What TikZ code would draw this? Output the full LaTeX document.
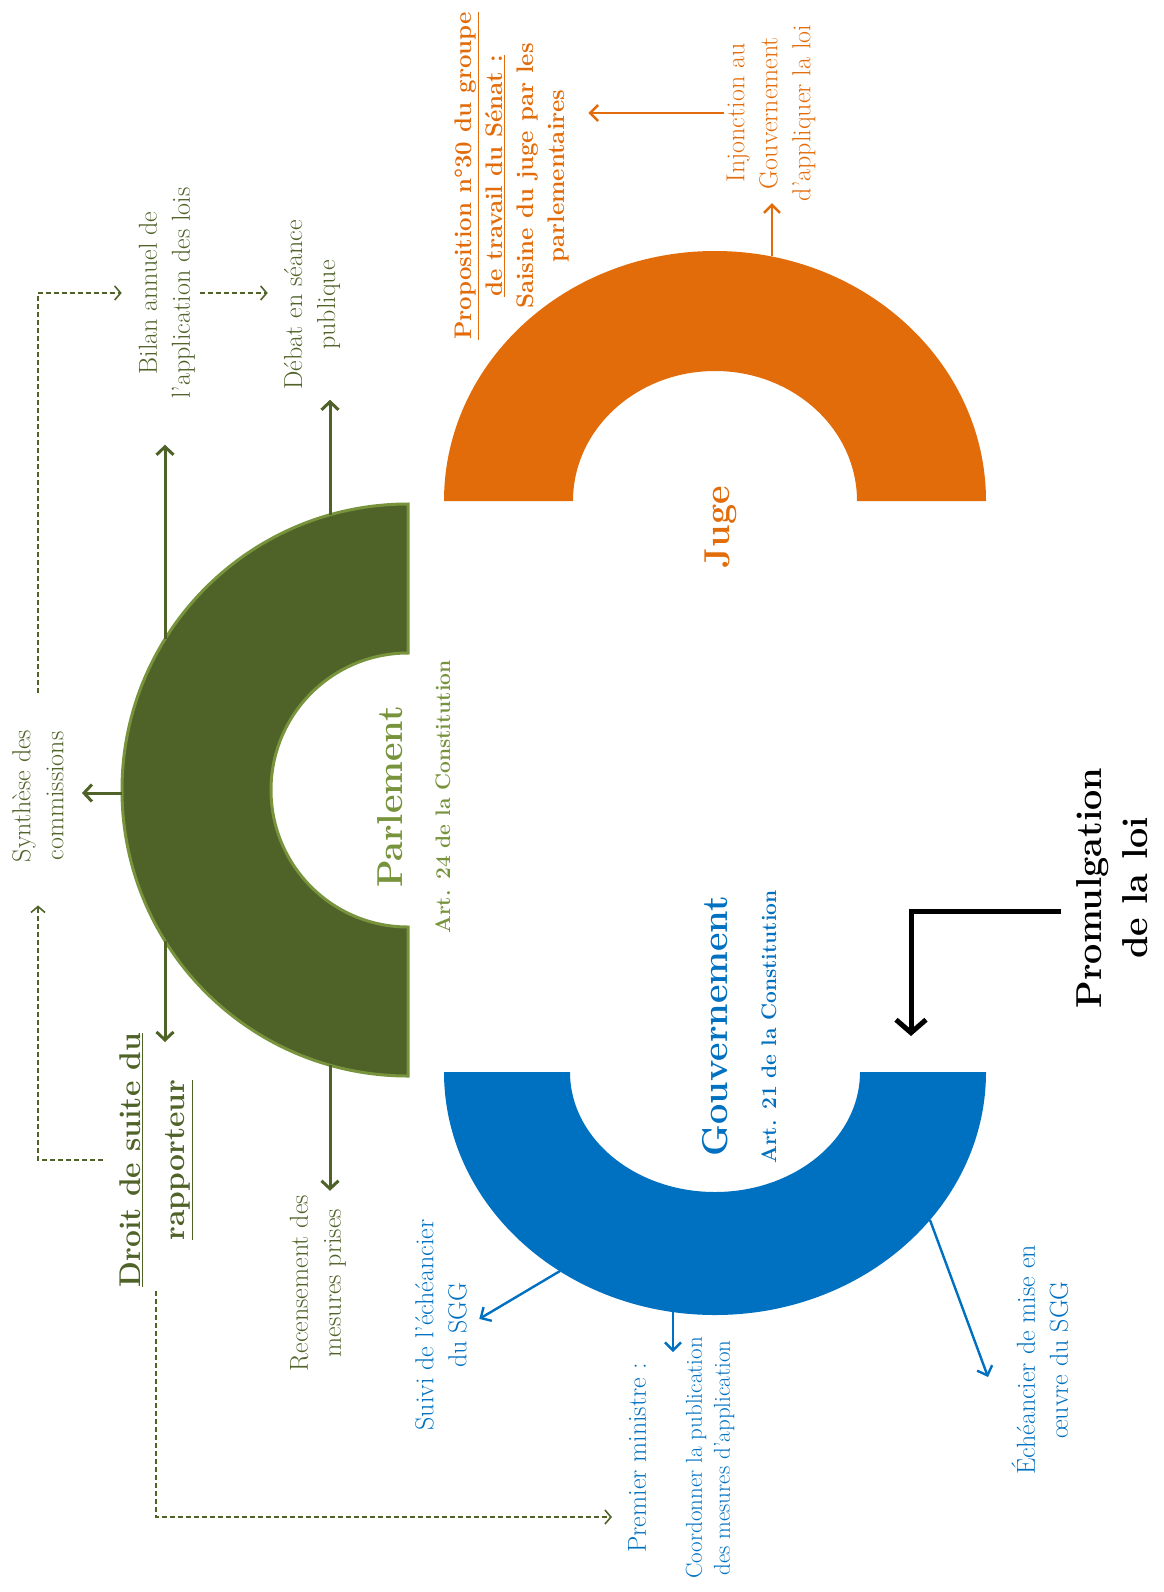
\documentclass[tikz,border=0pt]{standalone}
\definecolor{parlgreen}{RGB}{79, 98, 40}
\definecolor{parllight}{RGB}{119, 147, 60}
\definecolor{jugeorange}{RGB}{227, 108, 10}
\definecolor{gouvblue}{RGB}{0, 112, 192}
\usepackage{tikz}
\usetikzlibrary{arrows.meta, calc}

\begin{document}
\begin{tikzpicture}[x=1pt, y=1pt,
  lbl/.style={rotate=90, align=center, inner sep=2pt, font=\fontsize{26}{33}\selectfont},
  boldlbl/.style={rotate=90, align=center, inner sep=2pt, font=\fontsize{24}{31}\selectfont\bfseries},
  title/.style={rotate=90, align=center, inner sep=2pt, font=\fontsize{36}{46}\selectfont\bfseries},
  artlbl/.style={rotate=90, inner sep=2pt, font=\fontsize{21}{26}\selectfont\bfseries},
  arr/.style={line width=3pt, -{Straight Barb[length=8pt, width=17pt]}},
  thinarr/.style={line width=2.4pt, -{Straight Barb[length=8pt, width=16pt]}},
  dasharr/.style={parlgreen, line width=1.6pt, dash pattern=on 5pt off 3pt, -{Straight Barb[length=6pt, width=14pt]}}]

  \useasboundingbox (0,0) rectangle (1163,-1592);

  \fill[parlgreen, draw=parllight, line width=3pt] (408,-504) arc[start angle=90, end angle=270, radius=286]
    -- (408,-927) arc[start angle=270, end angle=90, radius=137] -- cycle;
  \fill[jugeorange] (986,-501) arc[start angle=0, end angle=180, x radius=271, y radius=250]
    -- (573,-501) arc[start angle=180, end angle=0, x radius=142, y radius=130] -- cycle;
  \fill[gouvblue] (444,-1072) arc[start angle=180, end angle=360, x radius=271, y radius=243]
    -- (860,-1072) arc[start angle=360, end angle=180, x radius=145, y radius=120] -- cycle;

  \coordinate (parlw) at (122,-793);
  \coordinate (parlnw) at (165,-639);
  \coordinate (parln) at (330,-515);
  \coordinate (parlsw) at (165,-941);
  \coordinate (parls) at (330,-1065);
  \coordinate (droittip) at (165,-1042);
  \coordinate (jugen) at (772,-256);
  \coordinate (gouvsw) at (560,-1271);
  \coordinate (gouvs) at (673,-1312);
  \coordinate (gouvse) at (930,-1220);
  \coordinate (gouvtip) at (911,-1036);
  \coordinate (coordtip) at (673,-1352);
  \coordinate (echtip) at (988,-1377);
  \coordinate (pmtip) at (612,-1517);

  \node[lbl, parlgreen] (synth) at (38,-796) {Synthèse des\\commissions};
  \node[lbl, parlgreen] (bilan) at (167,-293) {Bilan annuel de\\l’application des lois};
  \node[lbl, parlgreen] (debat) at (312,-305) {Débat en séance\\publique};
  \node[rotate=90, align=center, inner sep=2pt, font=\fontsize{30}{44}\selectfont\bfseries, parlgreen] (droit) at (156,-1160)
    {\underline{Droit de suite du}\\\underline{rapporteur}};
  \node[lbl, parlgreen] (recens) at (318,-1283) {Recensement des\\mesures prises};
  \node[title, parllight] (parl) at (390,-797) {Parlement};
  \node[artlbl, parllight] (art24) at (443,-797) {Art. 24 de la Constitution};

  \node[title, jugeorange] (juge) at (721,-527) {Juge};
  \node[boldlbl, jugeorange] (prop) at (512,-176)
    {\underline{Proposition n°30 du groupe}\\\underline{de travail du Sénat :}\\Saisine du juge par les\\parlementaires};
  \node[lbl, jugeorange] (inj) at (771,-113) {Injonction au\\Gouvernement\\d’appliquer la loi};

  \node[title, gouvblue] (gouv) at (715,-1026) {Gouvernement};
  \node[artlbl, gouvblue] (art21) at (769,-1027) {Art. 21 de la Constitution};
  \node[lbl, gouvblue] (suivi) at (441,-1325) {Suivi de l’échéancier\\du SGG};
  \node[lbl, gouvblue] (premier) at (637,-1458) {Premier ministre :};
  \node[rotate=90, align=center, inner sep=2pt, font=\fontsize{23}{28}\selectfont, gouvblue] (coord) at (710,-1458)
    {Coordonner la publication\\des mesures d’application};
  \node[lbl, gouvblue] (echeance) at (1040,-1360) {Échéancier de mise en\\œuvre du SGG};

  \node[title] (promul) at (1112,-888) {Promulgation\\de la loi};

  \draw[arr, parlgreen, shorten >=16pt] (parlw) -- (synth.south |- parlw);
  \draw[arr, parlgreen, shorten >=44pt] (parlnw) -- (parlnw |- bilan.west);
  \draw[arr, parlgreen, shorten >=8pt] (parln) -- (parln |- debat.west);
  \draw[arr, parlgreen] (parlsw) -- (droittip);
  \draw[arr, parlgreen, shorten >=2pt] (parls) -- (parls |- recens.east);

  \draw[dasharr, shorten >=15pt] (synth.east) ++(0,35) |- (bilan.north);
  \draw[dasharr, shorten <=3pt, shorten >=14pt] (bilan.south) -- (bilan.south -| debat.north);
  \draw[dasharr, shorten <=14pt, shorten >=41pt] (droit.north) -| (synth.west);
  \draw[dasharr, shorten <=2pt] (droit.west) |- (pmtip);

  \draw[thinarr, jugeorange, shorten >=17pt] (inj.north) -- (inj.north -| prop.south);
  \draw[thinarr, jugeorange] (jugen) -- (jugen |- inj.west);

  \draw[thinarr, gouvblue, shorten >=12pt] (gouvsw) -- (suivi.south);
  \draw[thinarr, gouvblue] (gouvs) -- (coordtip);
  \draw[thinarr, gouvblue] (gouvse) -- (echtip);

  \draw[line width=5pt, shorten <=13pt, -{Straight Barb[length=13pt, width=30pt]}] ($(promul.north)+(0,-23)$) -| (gouvtip);
\end{tikzpicture}
\end{document}
